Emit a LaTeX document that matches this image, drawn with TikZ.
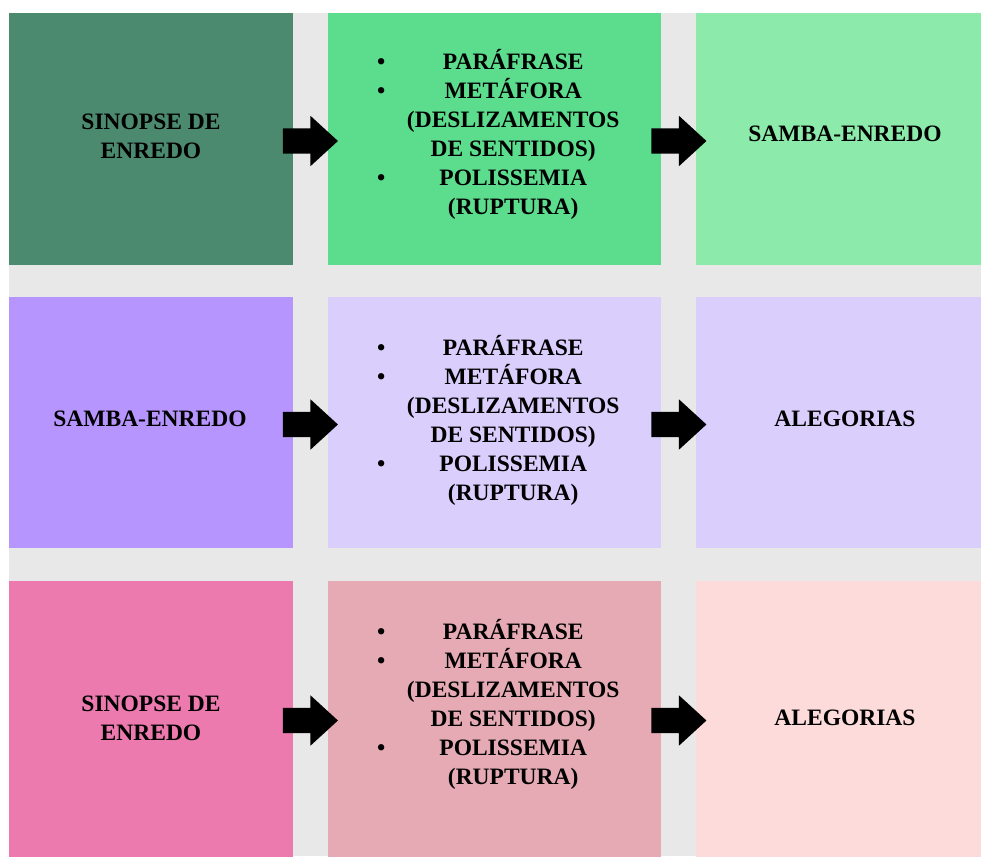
\documentclass[tikz,border=0pt]{standalone}
\usepackage{fontspec}
\setmainfont{Liberation Serif}
\usepackage{array}
\usepackage{tikz}
\usetikzlibrary{shapes.arrows, positioning}
\usepackage{xcolor}

\definecolor{fundo}{HTML}{E8E8E8}
\definecolor{verdeA}{HTML}{4C8A6F}
\definecolor{verdeB}{HTML}{5CDC8D}
\definecolor{verdeC}{HTML}{8CEAAA}
\definecolor{lilasA}{HTML}{B795FE}
\definecolor{lilasB}{HTML}{DACEFD}
\definecolor{lilasC}{HTML}{DACEFD}
\definecolor{rosaA}{HTML}{EC7AAF}
\definecolor{rosaB}{HTML}{E5AAB4}
\definecolor{rosaC}{HTML}{FDDBDB}

\newcommand{\listaitens}{%
\begin{tabular}[t]{@{}>{\centering\arraybackslash}p{16pt}@{}>{\centering\arraybackslash}p{248pt}@{}}
\textbullet & PARÁFRASE\\
\textbullet & METÁFORA\\
 & (DESLIZAMENTOS\\
 & DE SENTIDOS)\\
\textbullet & POLISSEMIA\\
 & (RUPTURA)
\end{tabular}}

\begin{document}
\begin{tikzpicture}[x=1pt, y=-1pt,
		caixa/.style = {rectangle, inner sep=0, outer sep=0, anchor=north west},
		texto/.style = {inner sep=0, font=\fontsize{23.5}{29}\selectfont\bfseries},
		seta/.style = {single arrow, fill=black, inner sep=0, text height=12.5pt, text depth=12.5pt,
			minimum height=55pt, single arrow head extend=12.5pt, single arrow tip angle=85}]
		\useasboundingbox[fill=white] (0,0) rectangle (981,856);
		\fill[fundo] (9,13) rectangle (981,856);
		
		% linha 1
		\node[caixa, fill=verdeA, minimum width=284, minimum height=252] (b11) at (9,13) {};
		\node[caixa, fill=verdeB, minimum width=333, minimum height=252] (b12) at (328,13) {};
		\node[caixa, fill=verdeC, minimum width=300, minimum height=252] (b13) at (696,13) {};
		% linha 2
		\node[caixa, fill=lilasA, minimum width=284, minimum height=251] (b21) at (9,297) {};
		\node[caixa, fill=lilasB, minimum width=333, minimum height=251] (b22) at (328,297) {};
		\node[caixa, fill=lilasC, minimum width=300, minimum height=251] (b23) at (696,297) {};
		% linha 3
		\node[caixa, fill=rosaA, minimum width=284, minimum height=280] (b31) at (9,581) {};
		\node[caixa, fill=rosaB, minimum width=333, minimum height=280] (b32) at (328,581) {};
		\node[caixa, fill=rosaC, minimum width=300, minimum height=280] (b33) at (696,581) {};
		
		\node[texto, anchor=base] (t11) at (151,129.3) {\begin{tabular}[t]{@{}c@{}}SINOPSE DE\\ENREDO\end{tabular}};
		\node[texto, anchor=base west] (t12) at (373,70) {\listaitens};
		\node[texto, anchor=base] (t13) at (845,141.7) {SAMBA-ENREDO};
		
		\node[texto, anchor=base] (t21) at (150,426.7) {SAMBA-ENREDO};
		\node[texto, anchor=base west] (t22) at (373,355) {\listaitens};
		\node[texto, anchor=base] (t23) at (845,426.7) {ALEGORIAS};
		
		\node[texto, anchor=base] (t31) at (151,711.7) {\begin{tabular}[t]{@{}c@{}}SINOPSE DE\\ENREDO\end{tabular}};
		\node[texto, anchor=base west] (t32) at (373,639.3) {\listaitens};
		\node[texto, anchor=base] (t33) at (845,725.7) {ALEGORIAS};
		
		% setas
		\node[seta] (s11) at (303.5,141) {};
		\node[seta] (s12) at (672,141) {};
		\node[seta] (s21) at (303.5,424.5) {};
		\node[seta] (s22) at (672,424.5) {};
		\node[seta] (s31) at (303.5,720.5) {};
		\node[seta] (s32) at (672,720.5) {};
	\end{tikzpicture}
\end{document}
